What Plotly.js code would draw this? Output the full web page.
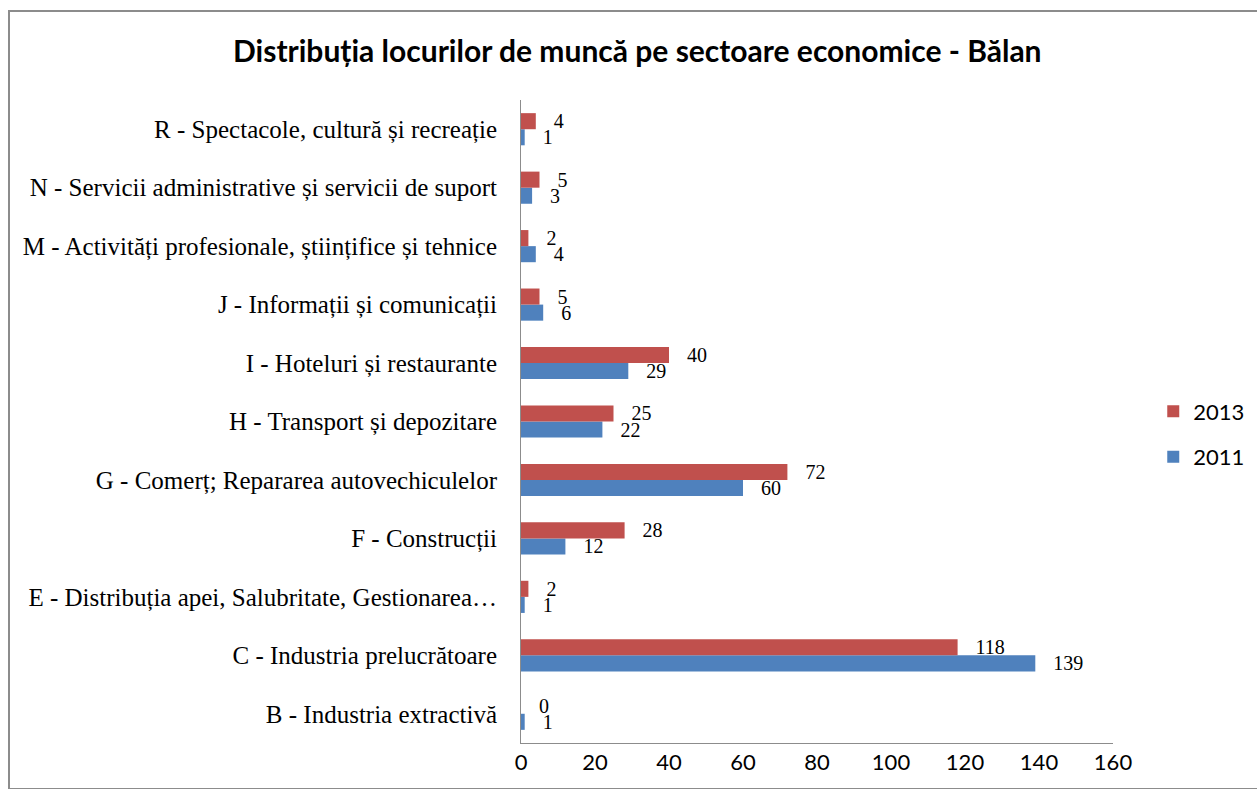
<!DOCTYPE html>
<html>
<head>
<meta charset="utf-8">
<script src="https://cdn.plot.ly/plotly-3.0.1.min.js"></script>
<style>
html,body{margin:0;padding:0;background:#fff;overflow:hidden;}
#chart{position:absolute;left:0;top:0;width:1257px;height:789px;}
#frame{position:absolute;left:8px;top:10px;width:1260px;height:776px;border:2px solid #8c8c8c;pointer-events:none;}
</style>
</head>
<body>
<div id="chart"></div>
<div id="frame"></div>
<script>
const categories = [
  "B - Industria extractivă",
  "C - Industria prelucrătoare",
  "E - Distribuția apei, Salubritate, Gestionarea…",
  "F - Construcții",
  "G - Comerț; Repararea autovechiculelor",
  "H - Transport și depozitare",
  "I - Hoteluri și restaurante",
  "J - Informații și comunicații",
  "M - Activități profesionale, științifice și tehnice",
  "N - Servicii administrative și servicii de suport",
  "R - Spectacole, cultură și recreație"
];
const values2011 = [1, 139, 1, 12, 60, 22, 29, 6, 4, 3, 1];
const values2013 = [0, 118, 2, 28, 72, 25, 40, 5, 2, 5, 4];
const xTicks = [0, 20, 40, 60, 80, 100, 120, 140, 160];

const labelFont = {family: "Liberation Serif, Times New Roman, serif", size: 20, color: "#000"};

const traces = [
  {
    type: "bar", orientation: "h", name: "2011", legendgroup: "g2011", legendrank: 2,
    y: categories, x: values2011,
    texttemplate: "   %{x}", textposition: "outside", cliponaxis: false,
    constraintext: "none",
    textfont: labelFont,
    marker: {color: "#4F81BD"}
  },
  {
    type: "bar", orientation: "h", name: "2013", legendgroup: "g2013", legendrank: 1,
    y: categories, x: values2013,
    texttemplate: "   %{x}", textposition: "outside", cliponaxis: false,
    constraintext: "none",
    textfont: labelFont,
    marker: {color: "#C0504D"}
  }
];

const layout = {
  width: 1257, height: 789,
  margin: {l: 521, r: 144, t: 100, b: 46, autoexpand: false},
  paper_bgcolor: "rgba(0,0,0,0)",
  plot_bgcolor: "rgba(0,0,0,0)",
  barmode: "group",
  bargap: 0.45,
  bargroupgap: 0,
  title: {
    text: "<b>Distribuția locurilor de muncă pe sectoare economice - Bălan</b>",
    x: 0.507, xanchor: "center", y: 0.935, yanchor: "middle",
    font: {family: "Lato, Open Sans, sans-serif", size: 30, color: "#000"}
  },
  xaxis: {
    range: [0, 160], tickvals: xTicks, ticktext: xTicks.map(String),
    showgrid: false, zeroline: false,
    showline: true, linecolor: "#8c8c8c", linewidth: 1,
    ticks: "", ticklen: 0,
    tickfont: {family: "Lato, Open Sans, sans-serif", size: 22, color: "#000"},
    fixedrange: true
  },
  yaxis: {
    type: "category",
    showgrid: false, zeroline: false,
    showline: true, linecolor: "#8c8c8c", linewidth: 1,
    ticks: "", ticklabelstandoff: 18,
    tickfont: {family: "Liberation Serif, Times New Roman, serif", size: 25, color: "#000"},
    fixedrange: true
  },
  legend: {
    x: 1.068, xanchor: "left", y: 0.48, yanchor: "middle",
    traceorder: "grouped",
    font: {family: "Lato, Open Sans, sans-serif", size: 22, color: "#000"},
    itemwidth: 30, tracegroupgap: 14
  },
  showlegend: true
};

Plotly.newPlot("chart", traces, layout, {displayModeBar: false, staticPlot: true});
</script>
</body>
</html>
